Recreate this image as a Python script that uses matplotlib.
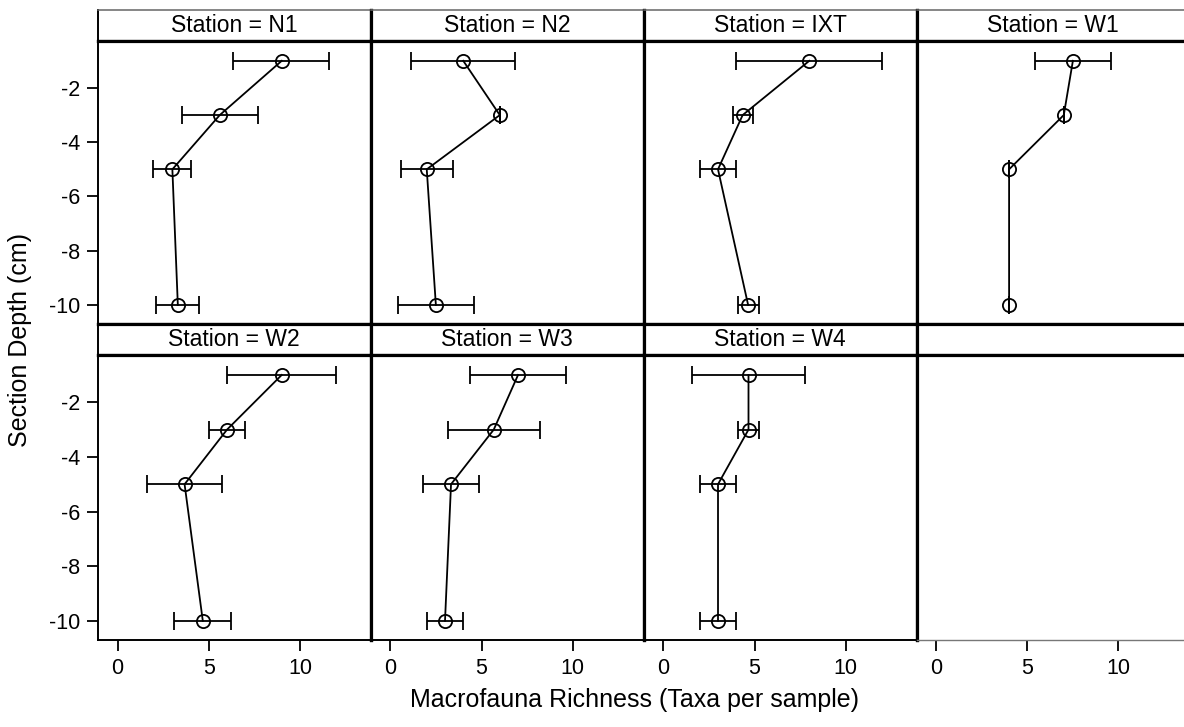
import matplotlib
matplotlib.use("Agg")
import matplotlib.pyplot as plt

plt.rcParams['font.family'] = ['Liberation Sans', 'DejaVu Sans']

depth = [-1, -3, -5, -10]
stations = ["N1", "N2", "IXT", "W1", "W2", "W3", "W4"]

# mean richness and error bar ends, one list per station (depths -1, -3, -5, -10)
mean_n1 = [9.0, 5.6, 3.0, 3.3]
lo_n1 = [6.35, 3.55, 1.95, 2.1]
hi_n1 = [11.6, 7.7, 4.0, 4.45]

mean_n2 = [4.0, 6.0, 2.0, 2.5]
lo_n2 = [1.15, 6.0, 0.6, 0.4]
hi_n2 = [6.85, 6.0, 3.45, 4.6]

mean_ixt = [8.0, 4.35, 3.0, 4.65]
lo_ixt = [4.0, 3.8, 2.0, 4.1]
hi_ixt = [12.0, 4.9, 4.0, 5.25]

mean_w1 = [7.5, 7.0, 4.0, 4.0]
lo_w1 = [5.4, 7.0, 4.0, 4.0]
hi_w1 = [9.6, 7.0, 4.0, 4.0]

mean_w2 = [9.0, 6.0, 3.67, 4.67]
lo_w2 = [6.0, 5.0, 1.6, 3.1]
hi_w2 = [12.0, 7.0, 5.75, 6.2]

mean_w3 = [7.0, 5.67, 3.33, 3.0]
lo_w3 = [4.35, 3.15, 1.8, 2.0]
hi_w3 = [9.65, 8.2, 4.85, 4.0]

mean_w4 = [4.67, 4.67, 3.0, 3.0]
lo_w4 = [1.6, 4.1, 2.0, 2.0]
hi_w4 = [7.75, 5.25, 4.0, 4.0]

means = [mean_n1, mean_n2, mean_ixt, mean_w1, mean_w2, mean_w3, mean_w4]
lows = [lo_n1, lo_n2, lo_ixt, lo_w1, lo_w2, lo_w3, lo_w4]
highs = [hi_n1, hi_n2, hi_ixt, hi_w1, hi_w2, hi_w3, hi_w4]

xticks = [0, 5, 10]
yticks = [-10, -8, -6, -4, -2]

W, H = 1184, 727
fig = plt.figure(figsize=(W / 100, H / 100), dpi=100)

col_edges = [98, 370.5, 643.5, 916.5, 1189]
# (header top, header bottom, plot bottom) in pixels from the top
rows = [(10, 41, 324), (324, 355, 640)]

thick = 2.3
thin = 1.4


def box(x0, x1, y0, y1):
    return [x0 / W, 1 - y1 / H, (x1 - x0) / W, (y1 - y0) / H]


def style_spines(a, r, c, header):
    for s in a.spines.values():
        s.set_linewidth(thick)
    if c == 0:
        a.spines["left"].set_linewidth(thin)
    if header and r == 0:
        a.spines["top"].set_linewidth(1.1)
        a.spines["top"].set_color("#666666")
    if not header and r == 1:
        a.spines["bottom"].set_linewidth(thin)


for r in range(2):
    htop, hbot, pbot = rows[r]
    for c in range(4):
        i = r * 4 + c
        x0, x1 = col_edges[c], col_edges[c + 1]

        hax = fig.add_axes(box(x0, x1, htop, hbot))
        hax.set_xticks([])
        hax.set_yticks([])
        style_spines(hax, r, c, True)
        if i < len(stations):
            hax.text(0.5, 0.5, "Station = " + stations[i], ha="center", va="center",
                     fontsize=16.5, transform=hax.transAxes)

        ax = fig.add_axes(box(x0, x1, hbot, pbot))
        ax.set_xlim(-1.08, 13.87)
        ax.set_ylim(-10.7, -0.27)
        style_spines(ax, r, c, False)

        if i < len(stations):
            m = means[i]
            xerr = [[m[k] - lows[i][k] for k in range(4)],
                    [highs[i][k] - m[k] for k in range(4)]]
            ax.errorbar(m, depth, xerr=xerr, fmt="none", ecolor="black",
                        elinewidth=1.3, capsize=6.5, capthick=1.3, zorder=2)
            ax.plot(m, depth, color="black", lw=1.3, marker="o", markersize=9.5,
                    markerfacecolor="none", markeredgecolor="black",
                    markeredgewidth=1.3, zorder=3)
        else:
            ax.spines["bottom"].set_linewidth(1.0)
            ax.spines["bottom"].set_color("#777777")

        if c == 0:
            ax.set_yticks(yticks)
            ax.set_yticklabels([str(v) for v in yticks])
        else:
            ax.set_yticks([])
        if r == 1:
            ax.set_xticks(xticks)
            ax.set_xticklabels([str(v) for v in xticks])
        else:
            ax.set_xticks([])
        ax.tick_params(direction="out", length=8, width=1.3, labelsize=15.5,
                       pad=5, color="black")

fig.text(20 / W, 1 - 340 / H, "Section Depth (cm)", rotation=90,
         ha="center", va="center", fontsize=18)
fig.text(634.5 / W, 1 - 700 / H, "Macrofauna Richness (Taxa per sample)",
         ha="center", va="center", fontsize=18)

fig.savefig("out.png", dpi=100, facecolor="white")
